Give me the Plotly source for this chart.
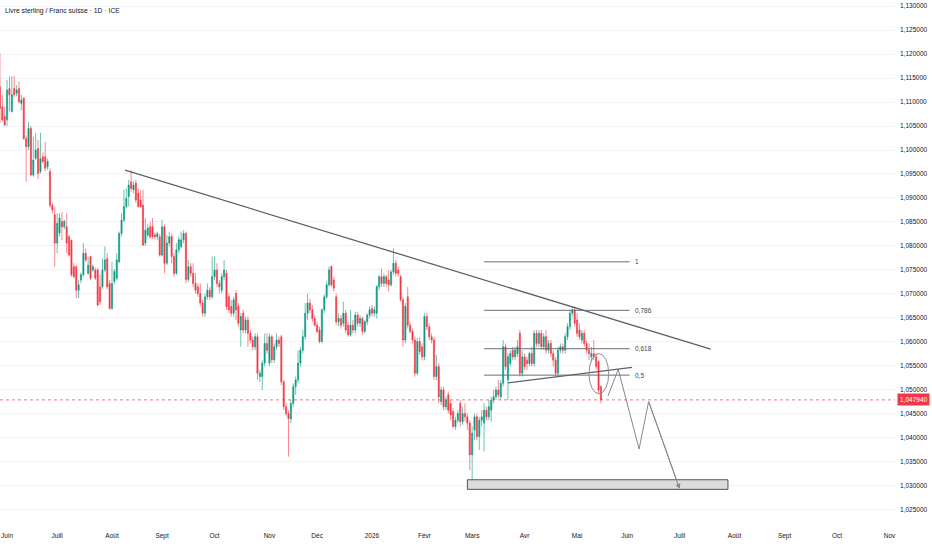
import pandas as pd
import plotly.graph_objects as go

# GBP/CHF daily candles, 28 May 2025 -> 15 May 2026
first_day = "2025-05-28"

opens = [
    1.1132, 1.1090, 1.1070, 1.1063, 1.1128, 1.1080, 1.1128, 1.1118, 1.1128, 1.1097,
    1.1108, 1.1024, 1.1007, 1.1045, 1.0948, 1.0983, 1.1003, 1.0955, 1.0986, 1.0986,
    1.0965, 1.0955, 1.0885, 1.0865, 1.0806, 1.0827, 1.0851, 1.0840, 1.0840, 1.0819,
    1.0812, 1.0757, 1.0757, 1.0708, 1.0729, 1.0740, 1.0785, 1.0743, 1.0778, 1.0750,
    1.0750, 1.0750, 1.0715, 1.0715, 1.0750, 1.0774, 1.0722, 1.0670, 1.0726, 1.0733,
    1.0767, 1.0826, 1.0854, 1.0882, 1.0903, 1.0934, 1.0917, 1.0931, 1.0910, 1.0896,
    1.0885, 1.0806, 1.0823, 1.0840, 1.0840, 1.0823, 1.0819, 1.0819,
    1.0781, 1.0840, 1.0764, 1.0806, 1.0820, 1.0778, 1.0743, 1.0792, 1.0799, 1.0813,
    1.0826, 1.0730, 1.0757, 1.0743, 1.0722, 1.0715, 1.0701, 1.0681, 1.0660, 1.0694,
    1.0708, 1.0694, 1.0736, 1.0750, 1.0722, 1.0708, 1.0736, 1.0743, 1.0694, 1.0674,
    1.0660, 1.0701, 1.0674, 1.0625, 1.0660, 1.0625, 1.0646, 1.0618, 1.0604, 1.0590,
    1.0611, 1.0528, 1.0528, 1.0556, 1.0597, 1.0556, 1.0611, 1.0563, 1.0590, 1.0604,
    1.0611, 1.0517, 1.0465, 1.0451, 1.0440, 1.0472, 1.0507, 1.0521, 1.0556, 1.0583,
    1.0611, 1.0660, 1.0681, 1.0667,
    1.0649, 1.0635, 1.0625, 1.0601, 1.0667, 1.0694, 1.0719, 1.0757, 1.0729, 1.0694,
    1.0642, 1.0649, 1.0639, 1.0660, 1.0635, 1.0615, 1.0635, 1.0625, 1.0656, 1.0639,
    1.0649, 1.0622, 1.0642, 1.0656, 1.0670, 1.0660, 1.0660, 1.0715, 1.0736, 1.0722,
    1.0736, 1.0729, 1.0719, 1.0746, 1.0764, 1.0750, 1.0736, 1.0688, 1.0604, 1.0694,
    1.0635, 1.0622, 1.0604, 1.0535, 1.0601, 1.0590, 1.0569, 1.0653, 1.0632, 1.0611,
    1.0604, 1.0528, 1.0549, 1.0476, 1.0500, 1.0465, 1.0490, 1.0472, 1.0455, 1.0424,
    1.0437,
    1.0472, 1.0434, 1.0451, 1.0444, 1.0431, 1.0365, 1.0417, 1.0444, 1.0403, 1.0437,
    1.0431, 1.0458, 1.0444, 1.0458, 1.0479, 1.0486, 1.0500, 1.0486, 1.0514, 1.0590,
    1.0521, 1.0555, 1.0583, 1.0569, 1.0576, 1.0618, 1.0535, 1.0569, 1.0562, 1.0555,
    1.0576, 1.0555, 1.0618, 1.0597, 1.0618, 1.0590, 1.0611, 1.0583, 1.0597, 1.0576,
    1.0562, 1.0535, 1.0583, 1.0590, 1.0583, 1.0611, 1.0632, 1.0660, 1.0667, 1.0646,
    1.0625, 1.0604, 1.0618, 1.0597, 1.0583, 1.0569, 1.0576, 1.0569, 1.0559, 1.0507,
]

highs = [
    1.1201, 1.1115, 1.1090, 1.1146, 1.1153, 1.1154, 1.1154, 1.1135, 1.1142, 1.1115,
    1.1110, 1.1030, 1.1059, 1.1050, 1.1028, 1.1035, 1.1021, 1.1036, 1.0995, 1.1017,
    1.0982, 1.0962, 1.0890, 1.0882, 1.0868, 1.0868, 1.0871, 1.0855, 1.0868, 1.0823,
    1.0813, 1.0765, 1.0760, 1.0729, 1.0745, 1.0806, 1.0795, 1.0778, 1.0780, 1.0762,
    1.0755, 1.0754, 1.0740, 1.0774, 1.0799, 1.0785, 1.0729, 1.0767, 1.0752, 1.0785,
    1.0830, 1.0868, 1.0917, 1.0920, 1.0938, 1.0958, 1.0935, 1.0938, 1.0920, 1.0917,
    1.0917, 1.0858, 1.0845, 1.0850, 1.0858, 1.0828, 1.0830, 1.0825,
    1.0855, 1.0845, 1.0823, 1.0830, 1.0826, 1.0785, 1.0806, 1.0820, 1.0830, 1.0833,
    1.0830, 1.0771, 1.0764, 1.0764, 1.0743, 1.0722, 1.0722, 1.0688, 1.0701, 1.0722,
    1.0715, 1.0778, 1.0778, 1.0764, 1.0729, 1.0743, 1.0771, 1.0750, 1.0701, 1.0688,
    1.0694, 1.0708, 1.0681, 1.0660, 1.0667, 1.0653, 1.0653, 1.0625, 1.0611, 1.0618,
    1.0618, 1.0542, 1.0562, 1.0618, 1.0618, 1.0618, 1.0615, 1.0597, 1.0618, 1.0611,
    1.0615, 1.0521, 1.0472, 1.0458, 1.0479, 1.0514, 1.0528, 1.0583, 1.0590, 1.0625,
    1.0681, 1.0701, 1.0690, 1.0677,
    1.0656, 1.0642, 1.0632, 1.0670, 1.0699, 1.0726, 1.0757, 1.0760, 1.0736, 1.0701,
    1.0660, 1.0656, 1.0684, 1.0667, 1.0642, 1.0667, 1.0646, 1.0663, 1.0663, 1.0656,
    1.0653, 1.0646, 1.0660, 1.0674, 1.0677, 1.0674, 1.0719, 1.0740, 1.0753, 1.0743,
    1.0740, 1.0750, 1.0750, 1.0795, 1.0771, 1.0757, 1.0740, 1.0694, 1.0681, 1.0715,
    1.0642, 1.0628, 1.0611, 1.0608, 1.0611, 1.0597, 1.0660, 1.0660, 1.0639, 1.0618,
    1.0611, 1.0573, 1.0556, 1.0507, 1.0507, 1.0486, 1.0497, 1.0479, 1.0462, 1.0444,
    1.0458,
    1.0479, 1.0465, 1.0472, 1.0451, 1.0437, 1.0424, 1.0451, 1.0451, 1.0444, 1.0458,
    1.0472, 1.0465, 1.0479, 1.0486, 1.0500, 1.0507, 1.0521, 1.0521, 1.0604, 1.0597,
    1.0576, 1.0583, 1.0590, 1.0590, 1.0604, 1.0625, 1.0583, 1.0576, 1.0569, 1.0580,
    1.0590, 1.0625, 1.0625, 1.0625, 1.0625, 1.0618, 1.0625, 1.0604, 1.0604, 1.0583,
    1.0569, 1.0590, 1.0597, 1.0597, 1.0618, 1.0639, 1.0667, 1.0674, 1.0674, 1.0660,
    1.0639, 1.0625, 1.0625, 1.0604, 1.0597, 1.0590, 1.0604, 1.0576, 1.0562, 1.0510,
]

lows = [
    1.1056, 1.1059, 1.1050, 1.1050, 1.1080, 1.1078, 1.1110, 1.1112, 1.1097, 1.1083,
    1.1021, 1.0934, 1.1000, 1.0945, 1.0944, 1.0979, 1.0939, 1.0951, 1.0972, 1.0955,
    1.0958, 1.0880, 1.0868, 1.0757, 1.0785, 1.0820, 1.0812, 1.0835, 1.0785, 1.0778,
    1.0736, 1.0733, 1.0691, 1.0691, 1.0722, 1.0736, 1.0767, 1.0740, 1.0729, 1.0745,
    1.0729, 1.0674, 1.0677, 1.0710, 1.0745, 1.0710, 1.0667, 1.0667, 1.0720, 1.0729,
    1.0764, 1.0820, 1.0850, 1.0878, 1.0882, 1.0913, 1.0910, 1.0890, 1.0880, 1.0880,
    1.0800, 1.0800, 1.0818, 1.0815, 1.0815, 1.0815, 1.0812, 1.0778,
    1.0778, 1.0743, 1.0760, 1.0799, 1.0764, 1.0736, 1.0740, 1.0785, 1.0795, 1.0806,
    1.0722, 1.0725, 1.0736, 1.0715, 1.0701, 1.0694, 1.0674, 1.0653, 1.0653, 1.0688,
    1.0688, 1.0690, 1.0729, 1.0715, 1.0701, 1.0701, 1.0729, 1.0667, 1.0660, 1.0653,
    1.0653, 1.0646, 1.0632, 1.0590, 1.0618, 1.0618, 1.0590, 1.0597, 1.0583, 1.0583,
    1.0521, 1.0517, 1.0500, 1.0549, 1.0576, 1.0549, 1.0556, 1.0556, 1.0583, 1.0590,
    1.0510, 1.0458, 1.0445, 1.0361, 1.0431, 1.0465, 1.0490, 1.0514, 1.0549, 1.0576,
    1.0604, 1.0646, 1.0660, 1.0642,
    1.0632, 1.0618, 1.0597, 1.0597, 1.0660, 1.0690, 1.0715, 1.0715, 1.0705, 1.0635,
    1.0632, 1.0628, 1.0632, 1.0618, 1.0611, 1.0611, 1.0618, 1.0618, 1.0632, 1.0632,
    1.0615, 1.0618, 1.0635, 1.0649, 1.0653, 1.0653, 1.0649, 1.0708, 1.0715, 1.0715,
    1.0715, 1.0705, 1.0715, 1.0740, 1.0736, 1.0736, 1.0684, 1.0590, 1.0597, 1.0628,
    1.0618, 1.0597, 1.0528, 1.0531, 1.0573, 1.0562, 1.0562, 1.0625, 1.0604, 1.0597,
    1.0521, 1.0521, 1.0472, 1.0469, 1.0458, 1.0458, 1.0451, 1.0437, 1.0420, 1.0417,
    1.0431,
    1.0424, 1.0427, 1.0434, 1.0417, 1.0333, 1.0313, 1.0396, 1.0396, 1.0375, 1.0424,
    1.0372, 1.0437, 1.0437, 1.0434, 1.0472, 1.0479, 1.0483, 1.0479, 1.0507, 1.0542,
    1.0479, 1.0549, 1.0562, 1.0562, 1.0569, 1.0528, 1.0528, 1.0542, 1.0542, 1.0549,
    1.0549, 1.0549, 1.0590, 1.0590, 1.0583, 1.0583, 1.0576, 1.0576, 1.0569, 1.0549,
    1.0528, 1.0528, 1.0576, 1.0576, 1.0576, 1.0604, 1.0625, 1.0653, 1.0632, 1.0611,
    1.0604, 1.0597, 1.0590, 1.0576, 1.0562, 1.0562, 1.0562, 1.0542, 1.0493, 1.0472,
]

closes = [
    1.1087, 1.1063, 1.1052, 1.1125, 1.1115, 1.1115, 1.1115, 1.1125, 1.1101, 1.1104,
    1.1024, 1.1007, 1.1045, 1.0948, 1.0979, 1.1000, 1.0951, 1.0982, 1.0976, 1.0962,
    1.0976, 1.0885, 1.0875, 1.0806, 1.0847, 1.0858, 1.0840, 1.0851, 1.0806, 1.0781,
    1.0740, 1.0736, 1.0708, 1.0719, 1.0740, 1.0785, 1.0771, 1.0760, 1.0733, 1.0757,
    1.0733, 1.0677, 1.0684, 1.0750, 1.0771, 1.0715, 1.0670, 1.0722, 1.0747, 1.0771,
    1.0826, 1.0854, 1.0882, 1.0899, 1.0927, 1.0920, 1.0927, 1.0896, 1.0882, 1.0882,
    1.0802, 1.0833, 1.0837, 1.0819, 1.0819, 1.0819, 1.0826, 1.0781,
    1.0840, 1.0764, 1.0806, 1.0819, 1.0778, 1.0743, 1.0792, 1.0813, 1.0813, 1.0826,
    1.0730, 1.0757, 1.0743, 1.0722, 1.0708, 1.0701, 1.0681, 1.0660, 1.0694, 1.0708,
    1.0694, 1.0736, 1.0750, 1.0722, 1.0715, 1.0736, 1.0750, 1.0674, 1.0667, 1.0660,
    1.0688, 1.0667, 1.0639, 1.0653, 1.0625, 1.0646, 1.0618, 1.0604, 1.0590, 1.0611,
    1.0535, 1.0535, 1.0556, 1.0597, 1.0583, 1.0611, 1.0563, 1.0590, 1.0604, 1.0597,
    1.0517, 1.0465, 1.0451, 1.0440, 1.0472, 1.0507, 1.0521, 1.0556, 1.0583, 1.0611,
    1.0660, 1.0681, 1.0667, 1.0649,
    1.0635, 1.0622, 1.0601, 1.0667, 1.0694, 1.0719, 1.0750, 1.0719, 1.0712, 1.0642,
    1.0649, 1.0635, 1.0660, 1.0625, 1.0615, 1.0635, 1.0625, 1.0656, 1.0639, 1.0649,
    1.0622, 1.0642, 1.0656, 1.0667, 1.0660, 1.0667, 1.0715, 1.0736, 1.0722, 1.0736,
    1.0722, 1.0719, 1.0746, 1.0764, 1.0743, 1.0743, 1.0688, 1.0604, 1.0674, 1.0635,
    1.0622, 1.0604, 1.0535, 1.0601, 1.0580, 1.0569, 1.0653, 1.0632, 1.0611, 1.0604,
    1.0528, 1.0549, 1.0486, 1.0500, 1.0465, 1.0479, 1.0458, 1.0448, 1.0424, 1.0437,
    1.0451,
    1.0434, 1.0451, 1.0444, 1.0431, 1.0365, 1.0410, 1.0444, 1.0403, 1.0437, 1.0444,
    1.0458, 1.0444, 1.0465, 1.0479, 1.0486, 1.0500, 1.0490, 1.0514, 1.0590, 1.0549,
    1.0569, 1.0576, 1.0569, 1.0583, 1.0590, 1.0535, 1.0569, 1.0549, 1.0555, 1.0576,
    1.0555, 1.0618, 1.0597, 1.0618, 1.0590, 1.0611, 1.0583, 1.0597, 1.0576, 1.0562,
    1.0535, 1.0583, 1.0590, 1.0583, 1.0611, 1.0632, 1.0660, 1.0667, 1.0639, 1.0618,
    1.0611, 1.0618, 1.0597, 1.0583, 1.0576, 1.0576, 1.0569, 1.0549, 1.0500, 1.04794,
]

last_price = 1.04794
last_label = "1,047940"

month_ticks = ["2025-06-02", "2025-07-01", "2025-08-01", "2025-09-01", "2025-10-01",
               "2025-11-03", "2025-12-01", "2026-01-01", "2026-02-02", "2026-03-02",
               "2026-04-01", "2026-05-01", "2026-06-01", "2026-07-01", "2026-08-03",
               "2026-09-01", "2026-10-01", "2026-11-02"]
month_labels = ["Juin", "Juill", "Août", "Sept", "Oct", "Nov", "Déc", "2026", "Févr",
                "Mars", "Avr", "Mai", "Juin", "Juill", "Août", "Sept", "Oct", "Nov"]

# drawings
trend_dates = ["2025-08-08 12:00", "2026-07-20"]
trend_prices = [1.0958, 1.0585]

support_dates = ["2026-03-23", "2026-06-03"]
support_prices = [1.0515, 1.0547]

fib_dates = ["2026-03-09", "2026-06-02"]
fib_prices = [1.0767, 1.0666, 1.0586, 1.0531]
fib_labels = ["1", "0,786", "0,618", "0,5"]

zone_dates = ["2026-02-26", "2026-07-29 06:00"]
zone_prices = [1.0293, 1.0313]

circle_dates = ["2026-05-08", "2026-05-20 06:00"]
circle_prices = [1.0492, 1.0576]

path_dates = ["2026-05-20", "2026-05-26 06:00", "2026-06-08", "2026-06-12", "2026-07-01"]
path_prices = [1.0488, 1.0543, 1.0377, 1.0476, 1.0294]

FONT = "Liberation Sans, Arial, sans-serif"
FS = 6.5
GREEN = "#089981"
RED = "#F23645"
DRAW = "#5d606b"
PATH = "#85888f"

days = pd.bdate_range(first_day, periods=len(closes))

fig = go.Figure()
fig.add_trace(go.Candlestick(
    x=days, open=opens, high=highs, low=lows, close=closes,
    increasing=dict(line=dict(color="rgba(8,153,129,0.6)", width=1), fillcolor=GREEN),
    decreasing=dict(line=dict(color="rgba(242,54,69,0.6)", width=1), fillcolor=RED),
    hoverinfo="skip", showlegend=False,
))

fig.add_trace(go.Scatter(
    x=path_dates, y=path_prices, mode="lines",
    line=dict(color=PATH, width=1),
    hoverinfo="skip", showlegend=False,
))
fig.add_annotation(x=path_dates[-1], y=path_prices[-1], ax=path_dates[-2], ay=path_prices[-2],
                   xref="x", yref="y", axref="x", ayref="y", text="",
                   showarrow=True, arrowhead=2, arrowsize=1, arrowwidth=1,
                   arrowcolor=PATH, standoff=0)

fig.add_shape(type="line", x0=trend_dates[0], x1=trend_dates[1],
              y0=trend_prices[0], y1=trend_prices[1],
              line=dict(color=DRAW, width=1.3))
fig.add_shape(type="line", x0=support_dates[0], x1=support_dates[1],
              y0=support_prices[0], y1=support_prices[1],
              line=dict(color=DRAW, width=1.2))

for p, lab in zip(fib_prices, fib_labels):
    fig.add_shape(type="line", x0=fib_dates[0], x1=fib_dates[1], y0=p, y1=p,
                  line=dict(color="#6a6d78", width=1))
    fig.add_annotation(x=fib_dates[1], y=p, text=lab, showarrow=False,
                       xanchor="left", xshift=3, font=dict(size=FS, color="#434651", family=FONT))

fig.add_shape(type="rect", x0=zone_dates[0], x1=zone_dates[1],
              y0=zone_prices[0], y1=zone_prices[1],
              fillcolor="#dcdcdc", line=dict(color="#50535e", width=1), layer="above")

fig.add_shape(type="circle", x0=circle_dates[0], x1=circle_dates[1],
              y0=circle_prices[0], y1=circle_prices[1],
              line=dict(color="#8a8d96", width=1))

# last price line and tag
fig.add_shape(type="line", xref="paper", x0=0, x1=1, y0=last_price, y1=last_price,
              line=dict(color="rgba(242,54,69,0.7)", width=1, dash="dot"))
fig.add_annotation(xref="paper", x=1, y=last_price, text=last_label, showarrow=False,
                   xanchor="left", xshift=2, bgcolor=RED, borderpad=2,
                   font=dict(size=FS, color="white", family=FONT))

fig.add_annotation(xref="paper", yref="paper", x=0, y=1, xanchor="left", yanchor="top",
                   xshift=3, yshift=-5, showarrow=False,
                   text="Livre sterling / Franc suisse · 1D · ICE",
                   font=dict(size=FS + 0.3, color="#131722", family=FONT))

fig.update_layout(
    width=932, height=550,
    margin=dict(l=0, r=37, t=0, b=20),
    plot_bgcolor="white", paper_bgcolor="white",
    separators=", ",
    font=dict(family=FONT, size=FS, color="#131722"),
    xaxis=dict(
        range=["2025-05-28 01:00", "2026-11-04 07:00"],
        rangebreaks=[dict(bounds=["sat", "mon"])],
        rangeslider=dict(visible=False),
        tickvals=month_ticks, ticktext=month_labels,
        showgrid=False, zeroline=False, showline=False, ticks="",
        automargin=False, ticklabeloverflow="allow",
        tickfont=dict(size=FS, color="#131722"),
    ),
    yaxis=dict(
        side="right",
        range=[1.02083, 1.13125],
        tick0=1.0, dtick=0.005, tickformat=".6f",
        showgrid=True, gridcolor="#f0f3fa", gridwidth=1,
        zeroline=False, showline=False, ticks="",
        automargin=False, ticklabelstandoff=4,
        tickfont=dict(size=FS, color="#131722"),
    ),
)

# the page's default 8px body margin would shift the whole chart
fig.write_html("out.html", config={"displayModeBar": False},
               post_script="document.body.style.margin='0';")
